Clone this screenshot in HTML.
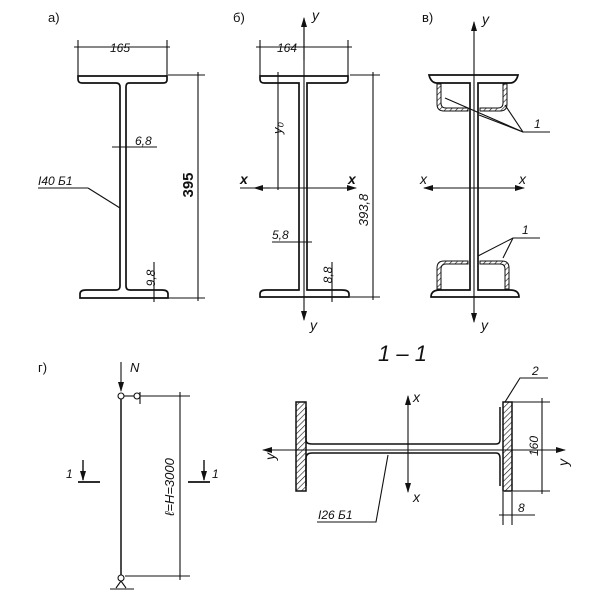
<!DOCTYPE html>
<html><head><meta charset="utf-8"><style>body{margin:0;background:#fff}svg{display:block}text{font-family:"Liberation Sans","DejaVu Sans",sans-serif;font-style:italic;fill:#111}</style></head>
<body>
<svg width="600" height="612" viewBox="0 0 600 612" xmlns="http://www.w3.org/2000/svg">
<defs>
<pattern id="h" width="4" height="4" patternUnits="userSpaceOnUse" patternTransform="rotate(45)"><line x1="0" y1="0" x2="0" y2="4" stroke="#111" stroke-width="1.2"/></pattern>
<marker id="ar" markerWidth="10" markerHeight="6" refX="9" refY="3" orient="auto" markerUnits="userSpaceOnUse"><path d="M0,0 L10,3 L0,6z" fill="#111"/></marker>
</defs>
<g stroke="#111" fill="none" stroke-width="1.7">
<path d="M78,76 H167 V80 Q167,83 163,83 H129 Q126,83 126,87 V286 Q126,290 130,290 H162 Q168,290 168,294 V298 H80 V294 Q80,290 86,290 H116 Q120,290 120,286 V87 Q120,83 116,83 H82 Q78,83 78,79 Z"/>
</g>
<g stroke="#111" fill="none" stroke-width="1.1">
<line x1="78" y1="76" x2="78" y2="40"/><line x1="167" y1="76" x2="167" y2="40"/><line x1="74" y1="47" x2="170" y2="47"/>
<line x1="168" y1="75" x2="205" y2="75"/><line x1="168" y1="298" x2="205" y2="298"/><line x1="198" y1="72" x2="198" y2="301"/>
<line x1="112" y1="147" x2="157" y2="147"/>
<line x1="38" y1="188" x2="88" y2="188"/><line x1="88" y1="188" x2="120" y2="208"/>
<line x1="154" y1="262" x2="154" y2="302"/>
<line x1="260" y1="76" x2="260" y2="40"/><line x1="348" y1="76" x2="348" y2="40"/><line x1="256" y1="47" x2="352" y2="47"/>
<line x1="350" y1="75" x2="380" y2="75"/><line x1="350" y1="297" x2="380" y2="297"/><line x1="373" y1="72" x2="373" y2="300"/>
<line x1="278" y1="72" x2="278" y2="190"/>
<line x1="272" y1="242" x2="312" y2="242"/>
<line x1="332" y1="262" x2="332" y2="302"/>
<line x1="304" y1="20" x2="304" y2="320" marker-end="url(#ar)"/>
<line x1="304" y1="60" x2="304" y2="18" marker-end="url(#ar)"/>
<line x1="240" y1="188" x2="356" y2="188" marker-end="url(#ar)"/>
<line x1="270" y1="188" x2="254" y2="188" marker-end="url(#ar)"/>
<line x1="474" y1="60" x2="474" y2="22" marker-end="url(#ar)"/>
<line x1="474" y1="60" x2="474" y2="322" marker-end="url(#ar)"/>
<line x1="440" y1="188" x2="424" y2="188" marker-end="url(#ar)"/>
<line x1="440" y1="188" x2="524" y2="188" marker-end="url(#ar)"/>
<polyline points="445,98 523,132 550,132"/><line x1="479" y1="115" x2="523" y2="132"/><line x1="505" y1="105" x2="523" y2="132"/>
<polyline points="478,256 513,238 540,238"/><line x1="503" y1="258" x2="513" y2="238"/>
</g>
<g stroke="#111" fill="none" stroke-width="1.7">
<path d="M260,76 H348 V80 Q348,83 344,83 H307 V290 H342 Q349,290 349,294 V297 H260 V294 Q260,290 266,290 H299 V83 H264 Q260,83 260,79Z"/>
<path d="M429,75 H518 Q516,83 510,83 H478 V290 H510 Q519,290 519,297 H431 Q431,290 440,290 H470 V83 H437 Q431,83 429,75Z"/>
</g>
<g stroke="#111" stroke-width="1" fill="url(#h)">
<path d="M437,84 V104 Q437,111 444,111 H468 V108 H446 Q441,108 441,103 V84Z"/>
<path d="M507,84 V104 Q507,111 500,111 H480 V108 H498 Q503,108 503,103 V84Z"/>
<path d="M437,289 V268 Q437,261 444,261 H468 V264 H446 Q441,264 441,269 V289Z"/>
<path d="M509,289 V268 Q509,261 502,261 H480 V264 H500 Q505,264 505,269 V289Z"/>
</g>
<g stroke="#111" fill="none" stroke-width="1.1">
<line x1="121" y1="398" x2="121" y2="575" stroke-width="1.5"/>
<line x1="121" y1="362" x2="121" y2="391" marker-end="url(#ar)"/>
<circle cx="121" cy="396" r="3" fill="#fff"/><line x1="124" y1="396" x2="134" y2="396"/><circle cx="137" cy="396" r="3" fill="#fff"/>
<line x1="140" y1="392" x2="140" y2="404"/>
<line x1="140" y1="396" x2="190" y2="396"/><line x1="125" y1="576" x2="190" y2="576"/><line x1="180" y1="392" x2="180" y2="580"/>
<circle cx="121" cy="578" r="3" fill="#fff"/><line x1="121" y1="581" x2="116" y2="588"/><line x1="121" y1="581" x2="126" y2="588"/><line x1="110" y1="589" x2="134" y2="589"/>
<line x1="83" y1="460" x2="83" y2="480" stroke-width="1.4" marker-end="url(#ar)"/><line x1="78" y1="482" x2="100" y2="482" stroke-width="1.8"/>
<line x1="204" y1="460" x2="204" y2="480" stroke-width="1.4" marker-end="url(#ar)"/><line x1="188" y1="482" x2="210" y2="482" stroke-width="1.8"/>
</g>
<g stroke="#111" stroke-width="1.5">
<rect x="296" y="402" width="10" height="89" fill="url(#h)"/>
<rect x="503" y="402" width="9" height="89" fill="url(#h)"/>
<path d="M306,407 V440 Q306,444 312,444 H496 Q500,444 500,440 V407 M306,486 V458 Q306,453 312,453 H496 Q500,453 500,458 V486" fill="none"/>
</g>
<g stroke="#111" fill="none" stroke-width="1.1">
<line x1="290" y1="450" x2="263" y2="450" marker-end="url(#ar)"/>
<line x1="290" y1="450" x2="565" y2="450" marker-end="url(#ar)"/>
<line x1="408" y1="440" x2="408" y2="396" marker-end="url(#ar)"/>
<line x1="408" y1="440" x2="408" y2="492" marker-end="url(#ar)"/>
<line x1="512" y1="402" x2="550" y2="402"/><line x1="512" y1="491" x2="550" y2="491"/><line x1="542" y1="398" x2="542" y2="494"/>
<line x1="503" y1="492" x2="503" y2="525"/><line x1="512" y1="492" x2="512" y2="525"/><line x1="499" y1="515" x2="535" y2="515"/>
<polyline points="505,402 520,378 548,378"/>
<polyline points="317,522 376,522 388,455"/>
</g>
<g font-size="13">
<text x="48" y="22" style="font-style:normal">а)</text>
<text x="233" y="22" style="font-style:normal">б)</text>
<text x="422" y="22" style="font-style:normal">в)</text>
<text x="38" y="372" style="font-style:normal">г)</text>
<text x="110" y="52" font-size="12">165</text>
<text x="135" y="145" font-size="12">6,8</text>
<text x="38" y="185" font-size="12">I40 Б1</text>
<text transform="translate(193,185) rotate(-90)" text-anchor="middle" font-size="15" font-weight="bold" style="font-style:normal">395</text>
<text transform="translate(155,278) rotate(-90)" text-anchor="middle" font-size="12">9,8</text>
<text x="277" y="52" font-size="12">164</text>
<text x="312" y="20" font-size="14">y</text>
<text transform="translate(282,128) rotate(-90)" text-anchor="middle" font-size="13">y₀</text>
<text x="240" y="184" font-size="14" font-weight="bold">x</text>
<text x="348" y="184" font-size="14" font-weight="bold">x</text>
<text transform="translate(368,210) rotate(-90)" text-anchor="middle" font-size="13">393,8</text>
<text x="272" y="239" font-size="12">5,8</text>
<text transform="translate(332,275) rotate(-90)" text-anchor="middle" font-size="12">8,8</text>
<text x="310" y="330" font-size="14">y</text>
<text x="482" y="24" font-size="14">y</text>
<text x="420" y="184" font-size="14">x</text>
<text x="519" y="184" font-size="14">x</text>
<text x="534" y="128" font-size="12">1</text>
<text x="522" y="234" font-size="12">1</text>
<text x="481" y="330" font-size="14">y</text>
<text x="130" y="372" font-size="13">N</text>
<text transform="translate(174,487) rotate(-90)" text-anchor="middle" font-size="13">ℓ=H=3000</text>
<text x="66" y="478" font-size="12">1</text>
<text x="212" y="478" font-size="12">1</text>
<text x="378" y="361" font-size="22">1 – 1</text>
<text x="413" y="402" font-size="14">x</text>
<text x="413" y="502" font-size="14">x</text>
<text transform="translate(275,460) rotate(-90)" font-size="14">y</text>
<text transform="translate(568,466) rotate(-90)" font-size="14">y</text>
<text x="532" y="375" font-size="12">2</text>
<text transform="translate(538,446) rotate(-90)" text-anchor="middle" font-size="12">160</text>
<text x="518" y="512" font-size="12">8</text>
<text x="318" y="519" font-size="12">I26 Б1</text>
</g>
</svg>
</body></html>
